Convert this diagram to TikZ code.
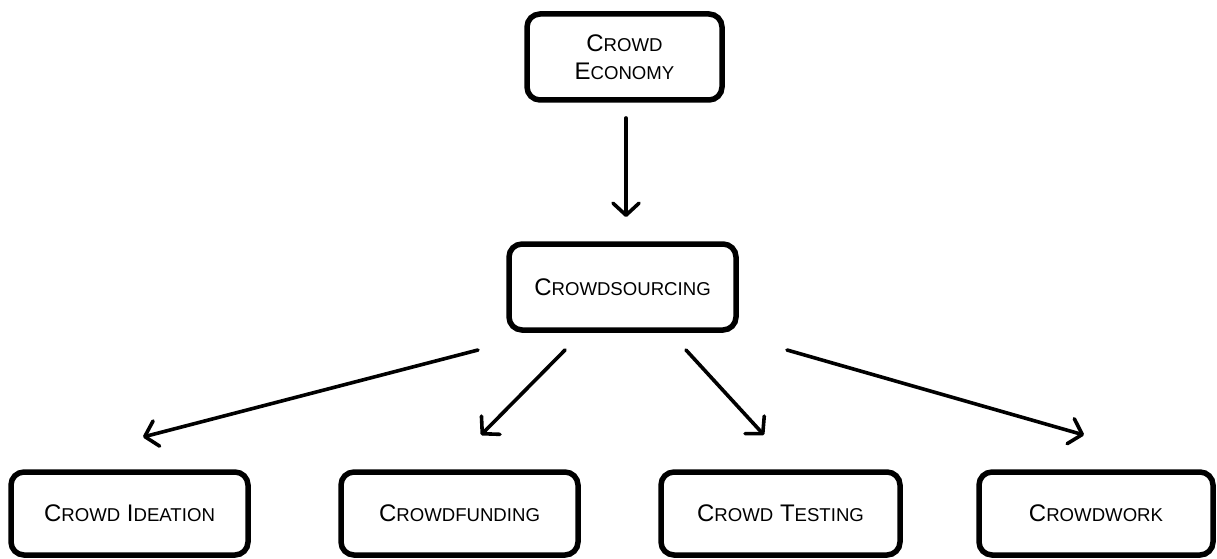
\documentclass[tikz,border=0pt]{standalone}
\usepackage{fontspec}
\setmainfont{Liberation Sans}
\usetikzlibrary{arrows.meta}

% synthetic small caps: capitals at full size, the rest at a reduced size
\newcommand{\bigsz}{\fontsize{24}{29}\selectfont}
\newcommand{\smsz}{\fontsize{18.6}{29}\selectfont}
\newcommand{\scword}[2]{#1{\smsz #2}}

\begin{document}
\begin{tikzpicture}[x=1pt,y=-1pt,
  box/.style={draw=black, line width=5.5pt, rounded corners=13pt, fill=white,
    inner sep=0pt, align=center, font=\bigsz},
  arr/.style={line width=3.6pt, line cap=round,
    -{Straight Barb[length=12pt,width=26pt,line cap=round,line join=round]}}]

\useasboundingbox (0,0) rectangle (1217,559);

% boxes
\node[box, minimum width=195pt, minimum height=86pt] (economy) at (624.5,57)
  {\scword{C}{ROWD}\\[-1pt]\scword{E}{CONOMY}};
\node[box, minimum width=227pt, minimum height=86pt] (sourcing) at (622.5,287)
  {\scword{C}{ROWDSOURCING}};
\node[box, minimum width=237pt, minimum height=83pt, text depth=-2pt] (ideation) at (129.5,513.5)
  {\scword{C}{ROWD} \scword{I}{DEATION}};
\node[box, minimum width=237pt, minimum height=83pt, text depth=-2pt] (funding) at (459.5,513.5)
  {\scword{C}{ROWDFUNDING}};
\node[box, minimum width=239pt, minimum height=83pt, text depth=-2pt] (testing) at (780.5,513.5)
  {\scword{C}{ROWD} \scword{T}{ESTING}};
\node[box, minimum width=234pt, minimum height=83pt, text depth=-2pt] (work) at (1096,513.5)
  {\scword{C}{ROWDWORK}};

% free connector ends
\coordinate (e0) at (626,118);
\coordinate (e1) at (626,217);
\coordinate (s1) at (478,350);
\coordinate (t1) at (143,437);
\coordinate (s2) at (565,350);
\coordinate (t2) at (481,435);
\coordinate (s3) at (686,350);
\coordinate (t3) at (764,435);
\coordinate (s4) at (787,350);
\coordinate (t4) at (1084,435);

% connectors
\draw[arr] (e0) -- (e1);
\draw[arr] (s1) -- (t1);
\draw[arr] (s2) -- (t2);
\draw[arr] (s3) -- (t3);
\draw[arr] (s4) -- (t4);
\end{tikzpicture}
\end{document}
